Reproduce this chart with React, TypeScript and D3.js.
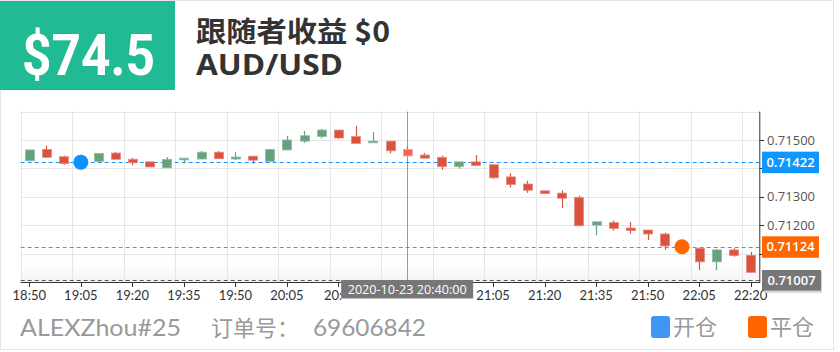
import React, { useEffect, useRef } from 'react';
import * as d3 from 'd3';

const times = [
  '18:50', '18:55', '19:00', '19:05', '19:10', '19:15', '19:20', '19:25', '19:30', '19:35',
  '19:40', '19:45', '19:50', '19:55', '20:00', '20:05', '20:10', '20:15', '20:20', '20:25',
  '20:30', '20:35', '20:40', '20:45', '20:50', '20:55', '21:00', '21:05', '21:10', '21:15',
  '21:20', '21:25', '21:30', '21:35', '21:40', '21:45', '21:50', '21:55', '22:00', '22:05',
  '22:10', '22:15', '22:20',
];

const opens = [
  0.71427, 0.71467, 0.71441, 0.71418, 0.71425, 0.71454, 0.71432, 0.71423, 0.71402, 0.71430,
  0.71433, 0.71457, 0.71433, 0.71443, 0.71425, 0.71465, 0.71496, 0.71512, 0.71535, 0.71512,
  0.71490, 0.71496, 0.71467, 0.71447, 0.71439, 0.71406, 0.71423, 0.71413, 0.71370, 0.71345,
  0.71321, 0.71313, 0.71298, 0.71200, 0.71209, 0.71190, 0.71183, 0.71169, 0.71128, 0.71119,
  0.71071, 0.71113, 0.71094,
];
const closes = [
  0.71465, 0.71439, 0.71417, 0.71426, 0.71453, 0.71432, 0.71420, 0.71405, 0.71432, 0.71436,
  0.71457, 0.71434, 0.71440, 0.71429, 0.71467, 0.71500, 0.71515, 0.71535, 0.71507, 0.71488,
  0.71496, 0.71462, 0.71444, 0.71436, 0.71406, 0.71423, 0.71410, 0.71367, 0.71343, 0.71323,
  0.71311, 0.71295, 0.71198, 0.71212, 0.71189, 0.71181, 0.71169, 0.71127, 0.71118, 0.71071,
  0.71113, 0.71093, 0.71034,
];
const highs = [
  0.71465, 0.71480, 0.71445, 0.71432, 0.71453, 0.71458, 0.71437, 0.71423, 0.71440, 0.71436,
  0.71461, 0.71461, 0.71457, 0.71443, 0.71467, 0.71514, 0.71532, 0.71539, 0.71535, 0.71550,
  0.71528, 0.71496, 0.71476, 0.71454, 0.71445, 0.71423, 0.71447, 0.71413, 0.71383, 0.71356,
  0.71321, 0.71323, 0.71304, 0.71212, 0.71217, 0.71211, 0.71183, 0.71174, 0.71132, 0.71119,
  0.71116, 0.71119, 0.71106,
];
const lows = [
  0.71427, 0.71439, 0.71413, 0.71414, 0.71420, 0.71432, 0.71411, 0.71405, 0.71402, 0.71418,
  0.71433, 0.71434, 0.71429, 0.71417, 0.71425, 0.71465, 0.71490, 0.71506, 0.71504, 0.71488,
  0.71490, 0.71453, 0.71444, 0.71436, 0.71395, 0.71399, 0.71410, 0.71363, 0.71333, 0.71314,
  0.71311, 0.71261, 0.71198, 0.71165, 0.71181, 0.71170, 0.71148, 0.71114, 0.71112, 0.71042,
  0.71041, 0.71089, 0.71034,
];

// tick marks on the price axis; only some carry a visible label (others sit under price tags)
const yTicks = [0.711, 0.712, 0.713, 0.714, 0.715];
const yLabels = [0.712, 0.713, 0.715];
const yGrid = [0.71, 0.711, 0.712, 0.713, 0.714, 0.715, 0.716];

const openMark = { time: '19:05', price: 0.71422 };
const closeMark = { time: '22:00', price: 0.71124 };
const lastPrice = 0.71007;
const hoverTime = '20:40';
const hoverLabel = '2020-10-23 20:40:00';

const UP = '#67a07d';
const DOWN = '#d9533f';

export default function App() {
  const svgRef = useRef<SVGSVGElement>(null);

  useEffect(() => {
    if (!svgRef.current) return;
    const svg = d3.select(svgRef.current);
    svg.selectAll('*').remove();

    const left = 20.7;
    const right = 759.3;
    const top = 111.6;
    const bottom = 282;

    const x = d3.scaleBand().domain(times).range([left, right]).paddingInner(0.48).paddingOuter(0.24);
    const step = x.step();
    const cx = (t: string) => (x(t) || 0) + x.bandwidth() / 2;
    const y = d3.scaleLinear().domain([0.71, 0.716]).range([bottom, top]);

    // card border
    svg.append('rect')
      .attr('x', 0.5).attr('y', 0.5).attr('width', 833).attr('height', 349)
      .attr('fill', '#fff').attr('stroke', '#e4e4e4');

    // header
    svg.append('rect')
      .attr('x', 0).attr('y', 1).attr('width', 175).attr('height', 89)
      .attr('fill', '#20bb94');
    svg.append('text')
      .attr('x', 22).attr('y', 75)
      .attr('font-family', 'Roboto, sans-serif').attr('font-weight', 700)
      .attr('font-size', 57).attr('fill', '#fff')
      .attr('textLength', 133).attr('lengthAdjust', 'spacingAndGlyphs')
      .text('$74.5');
    svg.append('text')
      .attr('x', 196).attr('y', 42)
      .attr('font-family', '"Noto Sans CJK SC", sans-serif').attr('font-weight', 700)
      .attr('font-size', 28).attr('fill', '#333')
      .attr('textLength', 194).attr('lengthAdjust', 'spacingAndGlyphs')
      .text('跟随者收益 $0');
    svg.append('text')
      .attr('x', 196).attr('y', 75)
      .attr('font-family', '"Open Sans", sans-serif').attr('font-weight', 700)
      .attr('font-size', 28).attr('fill', '#333')
      .attr('textLength', 147).attr('lengthAdjust', 'spacingAndGlyphs')
      .text('AUD/USD');

    // plot background fade at bottom
    const defs = svg.append('defs');
    const grad = defs.append('linearGradient').attr('id', 'fade').attr('x1', 0).attr('x2', 0).attr('y1', 0).attr('y2', 1);
    grad.append('stop').attr('offset', '0%').attr('stop-color', '#ffffff');
    grad.append('stop').attr('offset', '100%').attr('stop-color', '#f4f4f4');
    svg.append('rect')
      .attr('x', left).attr('y', bottom - 20).attr('width', right - left).attr('height', 20)
      .attr('fill', 'url(#fade)');
    // clip for axis labels partly hidden behind the hover tag
    const hx = cx(hoverTime);
    defs.append('clipPath').attr('id', 'xlabclip')
      .append('rect').attr('x', 0).attr('y', 0).attr('width', hx - 66).attr('height', 352);

    const g = svg.append('g');

    // grid
    g.selectAll('.hgrid').data(yGrid).enter().append('line')
      .attr('x1', left).attr('x2', right)
      .attr('y1', d => Math.round(y(d)) + 0.5).attr('y2', d => Math.round(y(d)) + 0.5)
      .attr('stroke', '#e6e6e6');
    g.selectAll('.vgrid').data(times.filter((_, i) => i % 3 === 0)).enter().append('line')
      .attr('x1', d => Math.round((x(d) || 0) - step * 0.24) + 0.5)
      .attr('x2', d => Math.round((x(d) || 0) - step * 0.24) + 0.5)
      .attr('y1', top).attr('y2', bottom)
      .attr('stroke', '#e6e6e6');

    // crosshair
    g.append('line')
      .attr('x1', Math.round(hx) + 0.5).attr('x2', Math.round(hx) + 0.5)
      .attr('y1', top).attr('y2', bottom)
      .attr('stroke', '#9a9a9a');

    // price lines
    const priceLines = [
      { p: openMark.price, c: '#1890ff' },
      { p: closeMark.price, c: '#ff6600' },
      { p: lastPrice, c: '#555' },
    ];
    g.selectAll('.pline').data(priceLines).enter().append('line')
      .attr('x1', left).attr('x2', right)
      .attr('y1', d => Math.round(y(d.p)) + 0.5).attr('y2', d => Math.round(y(d.p)) + 0.5)
      .attr('stroke', d => d.c).attr('stroke-dasharray', '4,3');

    // candles
    const idx = d3.range(times.length);
    g.selectAll('.wick').data(idx).enter().append('line')
      .attr('x1', i => Math.round(cx(times[i])) + 0.5)
      .attr('x2', i => Math.round(cx(times[i])) + 0.5)
      .attr('y1', i => y(highs[i])).attr('y2', i => y(lows[i]))
      .attr('stroke', i => (closes[i] >= opens[i] ? UP : DOWN))
      .attr('stroke-width', 1.2);
    g.selectAll('.body').data(idx).enter().append('rect')
      .attr('x', i => Math.round(cx(times[i]) - x.bandwidth() / 2) + 0.5)
      .attr('width', Math.round(x.bandwidth()))
      .attr('y', i => y(Math.max(opens[i], closes[i])))
      .attr('height', i => Math.max(1.5, Math.abs(y(opens[i]) - y(closes[i]))))
      .attr('fill', i => (times[i] === hoverTime ? '#f26552' : closes[i] >= opens[i] ? UP : DOWN))
      .attr('stroke', i => (times[i] === hoverTime ? '#f7a196' : closes[i] >= opens[i] ? '#8fbb9f' : '#e58a7c'))
      .attr('stroke-width', 0.8);

    // trade markers
    g.append('circle')
      .attr('cx', cx(openMark.time)).attr('cy', y(openMark.price)).attr('r', 7.5)
      .attr('fill', '#0b93fb');
    g.append('circle')
      .attr('cx', cx(closeMark.time)).attr('cy', y(closeMark.price)).attr('r', 7.5)
      .attr('fill', '#ff6600');

    // x axis
    const xAxis = g.append('g').attr('transform', `translate(0, ${bottom})`);
    xAxis.append('line')
      .attr('x1', left).attr('x2', right + 0.5).attr('y1', 0.5).attr('y2', 0.5)
      .attr('stroke', '#333');
    const xTicks = times.filter((_, i) => i % 3 === 0);
    xAxis.selectAll('.xt').data(xTicks).enter().append('line')
      .attr('x1', d => Math.round(cx(d)) + 0.5).attr('x2', d => Math.round(cx(d)) + 0.5)
      .attr('y1', 0).attr('y2', 5).attr('stroke', '#333');
    // labels fully under the hover tag are not shown; the one cut by it is clipped
    const hoverLeft = hx - 66;
    const hoverRight = hx + 66;
    const cut = (d: string) => cx(d) + 15 >= hoverLeft && cx(d) < hoverLeft;
    const shown = xTicks.filter(d => cx(d) + 15 < hoverLeft || cx(d) - 15 > hoverRight || cx(d) < hoverLeft);
    xAxis.selectAll('.xl').data(shown).enter().append('text')
      .attr('x', d => (cut(d) ? cx(d) - 14.5 : cx(d))).attr('y', 18)
      .attr('text-anchor', d => (cut(d) ? 'start' : 'middle'))
      .attr('font-family', 'Lato, sans-serif').attr('font-size', 13)
      .attr('fill', '#333')
      .attr('clip-path', d => (cut(d) ? 'url(#xlabclip)' : null))
      .text(d => (cut(d) ? d.slice(0, 3) : d));

    // y axis
    const yAxis = g.append('g');
    yAxis.append('line')
      .attr('x1', right + 0.5).attr('x2', right + 0.5).attr('y1', top).attr('y2', bottom + 1)
      .attr('stroke', '#333');
    yAxis.selectAll('.yt').data(yTicks).enter().append('line')
      .attr('x1', right).attr('x2', right + 5)
      .attr('y1', d => Math.round(y(d)) + 0.5).attr('y2', d => Math.round(y(d)) + 0.5)
      .attr('stroke', '#333');
    yAxis.selectAll('.yl').data(yLabels).enter().append('text')
      .attr('x', 767).attr('y', d => y(d)).attr('dy', '0.36em')
      .attr('font-family', '"Open Sans", sans-serif').attr('font-size', 13)
      .attr('fill', '#555')
      .text(d => d3.format('.5f')(d));

    // price labels on the axis
    const tags = [
      { p: openMark.price, c: '#0f96ff', x0: 762, w: 57 },
      { p: closeMark.price, c: '#ff6600', x0: 762, w: 57 },
    ];
    tags.forEach(t => {
      const yy = y(t.p);
      g.append('rect').attr('x', t.x0).attr('y', yy - 10.5).attr('width', t.w).attr('height', 21.5).attr('fill', t.c);
      g.append('text').attr('x', t.x0 + t.w / 2).attr('y', yy).attr('dy', '0.36em')
        .attr('text-anchor', 'middle')
        .attr('font-family', '"Open Sans", sans-serif').attr('font-weight', 600).attr('font-size', 13)
        .attr('fill', '#fff').text(d3.format('.5f')(t.p));
    });
    const ly = y(lastPrice) + 0.3;
    g.append('rect').attr('x', 764).attr('y', ly - 8.5).attr('width', 58).attr('height', 21).attr('fill', '#d5d5d5');
    g.append('rect').attr('x', 762).attr('y', ly - 10.3).attr('width', 59).attr('height', 20.6).attr('fill', '#777');
    g.append('text').attr('x', 791.5).attr('y', ly).attr('dy', '0.36em')
      .attr('text-anchor', 'middle')
      .attr('font-family', '"Open Sans", sans-serif').attr('font-weight', 600).attr('font-size', 13)
      .attr('fill', '#fff').text(d3.format('.5f')(lastPrice));

    // hover time label
    g.append('rect').attr('x', hoverLeft).attr('y', 280).attr('width', 132).attr('height', 18.5).attr('fill', '#777');
    g.append('text').attr('x', hx).attr('y', 289.3).attr('dy', '0.36em')
      .attr('text-anchor', 'middle')
      .attr('font-family', '"Open Sans", sans-serif').attr('font-size', 12.5)
      .attr('fill', '#fff')
      .attr('textLength', 119).attr('lengthAdjust', 'spacingAndGlyphs')
      .text(hoverLabel);

    // footer
    svg.append('text').attr('x', 20).attr('y', 336)
      .attr('font-family', 'Lato, sans-serif').attr('font-size', 24).attr('fill', '#999')
      .attr('textLength', 161).attr('lengthAdjust', 'spacingAndGlyphs')
      .text('ALEXZhou#25');
    svg.append('text').attr('x', 211).attr('y', 336)
      .attr('font-family', '"Noto Sans CJK SC", sans-serif').attr('font-size', 22).attr('fill', '#999')
      .text('订单号：');
    svg.append('text').attr('x', 313).attr('y', 336)
      .attr('font-family', 'Lato, sans-serif').attr('font-size', 24).attr('fill', '#999')
      .attr('textLength', 113).attr('lengthAdjust', 'spacingAndGlyphs')
      .text('69606842');

    const legend = [
      { label: '开仓', c: '#3f96f5', x0: 651 },
      { label: '平仓', c: '#ff6400', x0: 748 },
    ];
    legend.forEach(l => {
      svg.append('rect').attr('x', l.x0).attr('y', 316).attr('width', 19).attr('height', 22).attr('rx', 3)
        .attr('fill', l.c);
      svg.append('text').attr('x', l.x0 + 22).attr('y', 335)
        .attr('font-family', '"Noto Sans CJK SC", sans-serif').attr('font-size', 22).attr('fill', '#999')
        .text(l.label);
    });
  }, []);

  return (
    <div>
      <style>{'body{margin:0;}'}</style>
      <svg ref={svgRef} width={840} height={352} viewBox="0 0 840 352" style={{ display: 'block' }} />
    </div>
  );
}
